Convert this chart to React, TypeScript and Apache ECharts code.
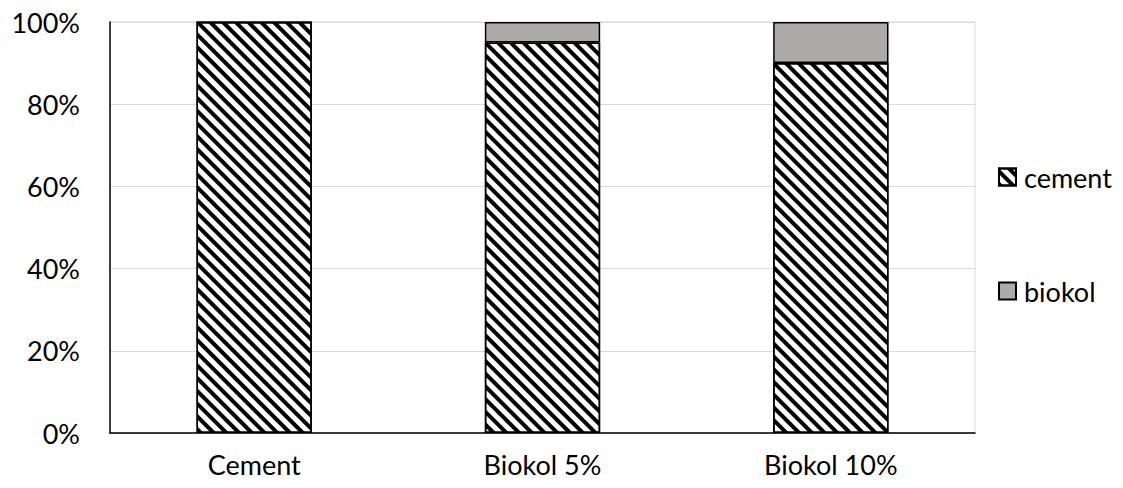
import React, { useEffect, useRef } from "react";
import * as echarts from "echarts";

const categories = ["Cement", "Biokol 5%", "Biokol 10%"];
const cementValues = [100, 95, 90];
const biokolValues = [0, 5, 10];
const yTicks = [0, 20, 40, 60, 80, 100];

export default function App() {
  const ref = useRef<HTMLDivElement>(null);
  useEffect(() => {
    if (!ref.current) return;
    const chart = echarts.init(ref.current, null, { renderer: "svg" });
    const font = "Lato, 'Open Sans', sans-serif";
    chart.setOption({
      animation: false,
      backgroundColor: "#ffffff",
      grid: {
        left: 110,
        right: 148,
        top: 22,
        bottom: 55,
        show: true,
        borderColor: "#d9d9d9",
        borderWidth: 1,
      },
      legend: {
        orient: "vertical",
        left: 993,
        top: 157,
        icon: "rect",
        itemWidth: 17,
        itemHeight: 17,
        itemGap: 84,
        data: ["cement", "biokol"],
        textStyle: {
          fontSize: 27,
          fontFamily: font,
          color: "#000",
          lineHeight: 30,
          padding: [0, 0, 0, 3],
        },
      },
      xAxis: {
        type: "category",
        data: categories,
        axisLine: { lineStyle: { color: "#000", width: 1.5 } },
        axisTick: { show: false },
        axisLabel: { fontSize: 27, fontFamily: font, color: "#000", margin: 18 },
      },
      yAxis: {
        type: "value",
        min: yTicks[0],
        max: yTicks[yTicks.length - 1],
        interval: 20,
        axisLine: { show: true, lineStyle: { color: "#000", width: 1.5 } },
        axisTick: { show: false },
        splitLine: { lineStyle: { color: "#d9d9d9", width: 1 } },
        axisLabel: {
          fontSize: 27,
          fontFamily: font,
          color: "#000",
          margin: 30,
          formatter: (v: number) => v + "%",
        },
      },
      series: [
        {
          name: "cement",
          type: "bar",
          stack: "total",
          barWidth: "40%",
          data: cementValues,
          itemStyle: {
            color: "#ffffff",
            borderColor: "#000",
            borderWidth: 1.5,
            decal: {
              symbol: "rect",
              symbolSize: 1,
              dashArrayX: [1, 0],
              dashArrayY: [4, 4.5],
              rotation: Math.PI / 4,
              color: "#000",
              backgroundColor: "#ffffff",
            },
          },
        },
        {
          name: "biokol",
          type: "bar",
          stack: "total",
          data: biokolValues,
          itemStyle: {
            color: "#aeaaaa",
            borderColor: "#000",
            borderWidth: 1.5,
          },
        },
      ],
    });
    return () => chart.dispose();
  }, []);
  return (
    <div
      ref={ref}
      style={{ position: "fixed", left: 0, top: 0, width: 1123, height: 488 }}
    />
  );
}
